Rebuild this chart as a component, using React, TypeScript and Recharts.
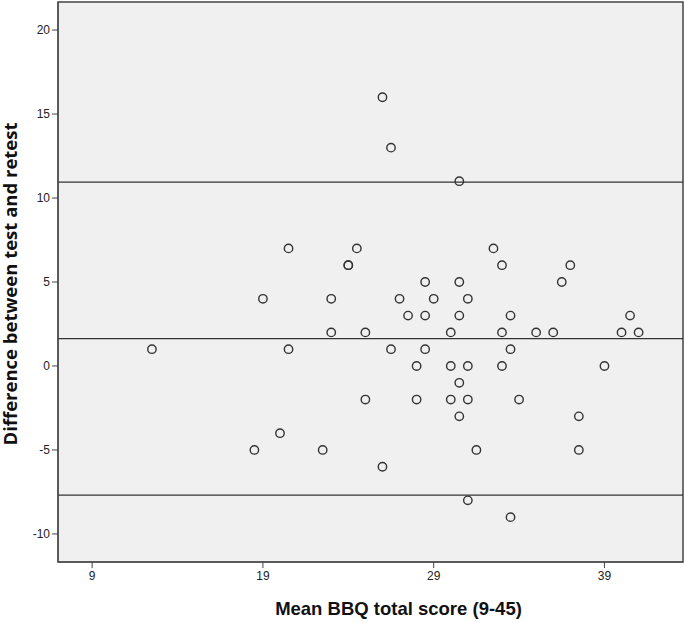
import { ScatterChart, Scatter, XAxis, YAxis, ReferenceLine, ReferenceArea, Label } from 'recharts';

// Bland-Altman points: mean of test/retest vs difference
const meanScores = [
  12.5, 26, 26.5, 30.5, 20.5, 24.5, 24, 24, 32.5, 33, 37, 28.5, 30.5, 36.5,
  19, 23, 27, 29, 31, 27.5, 28.5, 30.5, 33.5, 40.5, 23, 25, 30, 33, 35, 36,
  40, 41, 20.5, 26.5, 28.5, 33.5, 28, 30, 31, 33, 39, 30.5, 25, 28, 30, 31,
  34, 30.5, 37.5, 20, 18.5, 22.5, 31.5, 37.5, 26, 31, 33.5,
];
const differences = [
  1, 16, 13, 11, 7, 7, 6, 6, 7, 6, 6, 5, 5, 5,
  4, 4, 4, 4, 4, 3, 3, 3, 3, 3, 2, 2, 2, 2, 2, 2,
  2, 2, 1, 1, 1, 1, 0, 0, 0, 0, 0, -1, -2, -2, -2, -2,
  -2, -3, -3, -4, -5, -5, -5, -5, -6, -8, -9,
];

const meanDiff = 1.63;
const upperLimit = 10.95;
const lowerLimit = -7.69;

const xTicks = [9, 19, 29, 39];
const yTicks = [-10, -5, 0, 5, 10, 15, 20];
const xDomain = [7, 43.6];
const yDomain = [-11.67, 21.67];

const points = meanScores.map((m, i) => ({ mean: m, diff: differences[i] }));

const tickStyle = { fontFamily: 'Liberation Sans, Arial, sans-serif', fontSize: 12, fill: '#222' };

const Ring = (props: any) => (
  <circle cx={props.cx} cy={props.cy} r={4.2} fill="none" stroke="#333" strokeWidth={1.4} />
);

const App = () => {
  return (
    <div style={{ position: 'fixed', left: 0, top: 0, background: '#fff' }}>
      <ScatterChart width={685} height={623} margin={{ top: 2, right: 2, bottom: 0, left: 0 }}>
        <ReferenceArea
          x1={xDomain[0]}
          x2={xDomain[1]}
          y1={yDomain[0]}
          y2={yDomain[1]}
          fill="#F0F0F0"
          fillOpacity={1}
          stroke="#444"
          strokeWidth={1.5}
          ifOverflow="visible"
        />
        <XAxis
          type="number"
          dataKey="mean"
          domain={xDomain}
          ticks={xTicks}
          allowDataOverflow
          height={61}
          tickSize={6}
          stroke="#444"
          tick={tickStyle}
          tickMargin={3}
        >
          <Label
            content={({ viewBox }: any) => (
              <text
                x={viewBox.x + viewBox.width / 2 + 28}
                y={615}
                textAnchor="middle"
                fontFamily="Liberation Sans, Arial, sans-serif"
                fontSize={18.5}
                fontWeight="bold"
                fill="#111"
              >
                Mean BBQ total score (9-45)
              </text>
            )}
          />
        </XAxis>
        <YAxis
          type="number"
          dataKey="diff"
          domain={yDomain}
          ticks={yTicks}
          allowDataOverflow
          width={58}
          tickSize={6}
          stroke="#444"
          tick={tickStyle}
          tickMargin={2}
        >
          <Label
            content={() => (
              <text
                x={0}
                y={0}
                transform="translate(16.5 284) rotate(-90)"
                textAnchor="middle"
                fontFamily="Open Sans, sans-serif"
                fontSize={18.5}
                fontWeight="bold"
                fill="#111"
              >
                Difference between test and retest
              </text>
            )}
          />
        </YAxis>
        <ReferenceLine y={upperLimit} stroke="#333" strokeWidth={1.3} />
        <ReferenceLine y={meanDiff} stroke="#333" strokeWidth={1.3} />
        <ReferenceLine y={lowerLimit} stroke="#333" strokeWidth={1.3} />
        <Scatter data={points} shape={Ring} isAnimationActive={false} />
      </ScatterChart>
    </div>
  );
};

export default App;
